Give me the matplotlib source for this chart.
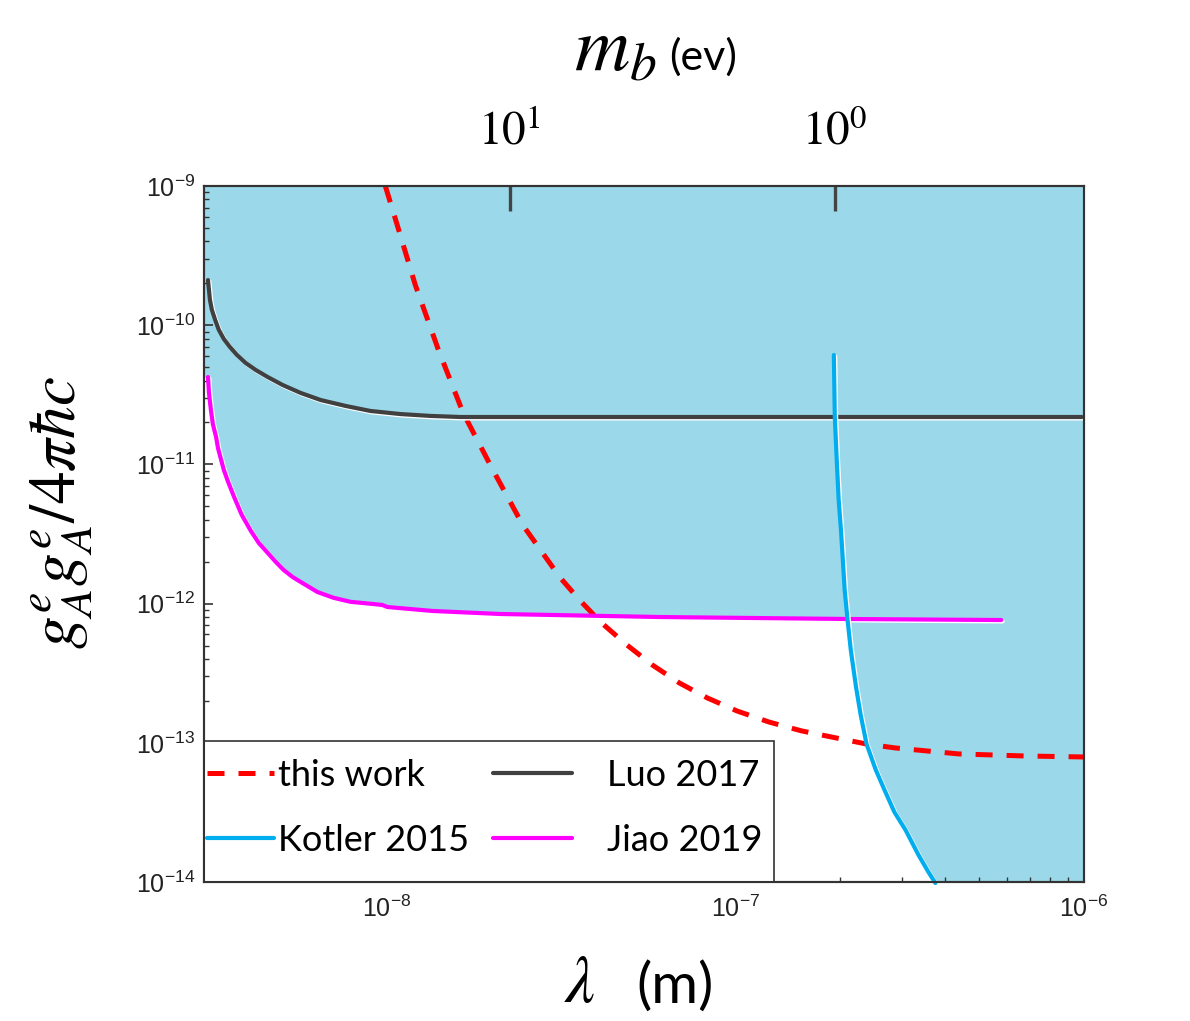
import numpy as np
import matplotlib
matplotlib.use('Agg')
import matplotlib.pyplot as plt
from matplotlib import patheffects as pe
from matplotlib.ticker import NullLocator
from matplotlib.patches import Rectangle

plt.rcParams['font.family'] = ['Lato', 'DejaVu Sans']
plt.rcParams['mathtext.fontset'] = 'custom'
plt.rcParams['mathtext.rm'] = 'Liberation Sans'
plt.rcParams['mathtext.it'] = 'Liberation Sans:italic'
plt.rcParams['mathtext.bf'] = 'Liberation Sans:bold'
plt.rcParams['mathtext.sf'] = 'Liberation Sans'

# ---------------- data ----------------
this_work_x = [9.93e-9, 1.074e-8, 1.21e-8, 1.41e-8, 1.66e-8, 2.02e-8, 2.46e-8, 3.14e-8,
               3.58e-8, 4.14e-8, 4.89e-8, 5.79e-8, 6.92e-8, 8.32e-8, 1.014e-7, 1.25e-7,
               1.545e-7, 1.89e-7, 2.38e-7, 2.88e-7, 4.37e-7, 6.78e-7, 1.0e-6]
this_work_y = [1.0e-9, 5.25e-10, 1.95e-10, 6.64e-11, 2.34e-11, 9.12e-12, 3.67e-12, 1.55e-12,
               1.06e-12, 7.26e-13, 5.05e-13, 3.62e-13, 2.69e-13, 2.10e-13, 1.69e-13, 1.41e-13,
               1.22e-13, 1.10e-13, 9.8e-14, 9.18e-14, 8.32e-14, 8.04e-14, 7.91e-14]

luo_x = [3.08e-9, 3.10e-9, 3.12e-9, 3.16e-9, 3.23e-9, 3.31e-9, 3.42e-9, 3.56e-9, 3.73e-9,
         3.95e-9, 4.22e-9, 4.57e-9, 5.04e-9, 5.68e-9, 6.48e-9, 7.64e-9, 9.00e-9, 1.096e-8,
         1.336e-8, 1.63e-8, 9.86e-7]
luo_y = [2.11e-10, 1.79e-10, 1.52e-10, 1.29e-10, 1.09e-10, 9.24e-11, 7.96e-11, 6.97e-11,
         6.11e-11, 5.35e-11, 4.77e-11, 4.24e-11, 3.72e-11, 3.26e-11, 2.90e-11, 2.63e-11,
         2.42e-11, 2.30e-11, 2.23e-11, 2.19e-11, 2.19e-11]

jiao_x = [3.08e-9, 3.10e-9, 3.14e-9, 3.18e-9, 3.25e-9, 3.29e-9, 3.36e-9, 3.42e-9, 3.51e-9,
          3.66e-9, 3.85e-9, 4.09e-9, 4.31e-9, 4.57e-9, 4.82e-9, 5.08e-9, 5.39e-9, 5.68e-9,
          6.35e-9, 7.06e-9, 7.89e-9, 9.18e-9, 9.74e-9, 1.007e-8, 1.36e-8, 2.12e-8, 6.07e-8,
          2.12e-7, 5.79e-7]
jiao_y = [4.24e-11, 3.26e-11, 2.46e-11, 1.95e-11, 1.57e-11, 1.31e-11, 1.075e-11, 9.12e-12,
          7.60e-12, 5.83e-12, 4.33e-12, 3.32e-12, 2.72e-12, 2.31e-12, 1.99e-12, 1.74e-12,
          1.55e-12, 1.43e-12, 1.21e-12, 1.10e-12, 1.03e-12, 9.93e-13, 9.77e-13, 9.45e-13,
          8.85e-13, 8.42e-13, 8.01e-13, 7.75e-13, 7.62e-13]

kotler_x = [1.918e-7, 1.93e-7, 1.955e-7, 1.98e-7, 2.01e-7, 2.035e-7, 2.06e-7, 2.10e-7,
            2.145e-7, 2.22e-7, 2.29e-7, 2.38e-7, 2.53e-7, 2.68e-7, 2.86e-7, 3.08e-7,
            3.355e-7, 3.58e-7, 3.75e-7]
kotler_y = [6.11e-11, 2.19e-11, 1.075e-11, 5.55e-12, 3.38e-12, 2.06e-12, 1.25e-12, 7.62e-13,
            4.64e-13, 2.52e-13, 1.58e-13, 9.80e-14, 6.38e-14, 4.58e-14, 3.18e-14, 2.36e-14,
            1.56e-14, 1.18e-14, 9.83e-15]

top_tick_pos = [2.26e-8, 1.93e-7]
top_tick_labels = [r'$10^1$', r'$10^0$']

labels = ['this work', 'Kotler 2015', 'Luo 2017', 'Jiao 2019']

XMIN, XMAX = 3e-9, 1e-6
YMIN, YMAX = 1e-14, 1e-9

# ---------------- colours ----------------
FILL = '#9bd8e9'
C_RED = '#ff0000'
C_LUO = '#404040'
C_JIAO = '#ff00ff'
C_KOT = '#00aeef'
AXC = '#333333'

W, H = 1190, 1021
fig = plt.figure(figsize=(W / 100, H / 100), dpi=100)
ax = fig.add_axes([204 / W, 1 - 882 / H, (1084 - 204) / W, (882 - 186) / H])
ax.set_xscale('log')
ax.set_yscale('log')
ax.set_xlim(XMIN, XMAX)
ax.set_ylim(YMIN, YMAX)

# excluded region: above min(Jiao, Kotler)
lg = np.linspace(np.log10(XMIN), np.log10(XMAX), 3000)
jb = np.interp(lg, np.log10(jiao_x), np.log10(jiao_y),
               left=np.log10(jiao_y[0]), right=np.log10(YMAX))
kb = np.interp(lg, np.log10(kotler_x), np.log10(kotler_y),
               left=np.log10(YMAX), right=np.log10(YMIN) - 0.2)
bnd = np.minimum(jb, kb)
ax.fill_between(10 ** lg, 10 ** bnd, YMAX, color=FILL, lw=0, zorder=1)

halo = [pe.SimpleLineShadow(offset=(1.0, -1.0), shadow_color='white', alpha=1.0),
        pe.Normal()]

l_red, = ax.plot(this_work_x, this_work_y, color=C_RED, lw=3.6, dashes=(3.4, 2.8),
                 label=labels[0], zorder=3, clip_on=False)
l_luo, = ax.plot(luo_x, luo_y, color=C_LUO, lw=3.0, label=labels[2], zorder=3,
                 path_effects=halo, solid_capstyle='round', solid_joinstyle='round')
l_jiao, = ax.plot(jiao_x, jiao_y, color=C_JIAO, lw=3.0, label=labels[3], zorder=3,
                  path_effects=halo, solid_capstyle='round', solid_joinstyle='round')
l_kot, = ax.plot(kotler_x, kotler_y, color=C_KOT, lw=3.0, label=labels[1], zorder=3,
                 path_effects=halo, solid_capstyle='round', solid_joinstyle='round',
                 clip_on=False)

# ticks
ax.tick_params(which='both', direction='in', top=False, right=False, colors=AXC,
               labelcolor='#222222')
ax.tick_params(which='major', length=6.5, width=1.2, labelsize=18,
               labelfontfamily='Liberation Sans')
ax.tick_params(which='minor', length=3.6, width=1.0)
ax.tick_params(axis='y', which='major', pad=6.5)
ax.tick_params(axis='x', which='major', pad=10)
for s in ax.spines.values():
    s.set_color(AXC)
    s.set_linewidth(1.5)

# top axis (mass)
ax2 = ax.twiny()
ax2.set_xscale('log')
ax2.set_xlim(XMIN, XMAX)
ax2.set_xticks(top_tick_pos, top_tick_labels, math_fontfamily='stix', fontsize=34)
ax2.xaxis.set_minor_locator(NullLocator())
ax2.tick_params(axis='x', which='major', direction='in', length=18, width=2.4,
                color='#444444', pad=24, labelcolor='black')
for s in ax2.spines.values():
    s.set_color(AXC)
    s.set_linewidth(1.5)

# legend frame + two legends
frame = Rectangle((0, 0), (774 - 204) / 880, (882 - 741) / 696, transform=ax.transAxes,
                  facecolor='white', edgecolor=AXC, lw=1.2, zorder=4)
ax.add_patch(frame)
leg1 = ax.legend([l_red, l_kot], [labels[0], labels[1]], loc='upper left',
                 bbox_to_anchor=((207 - 204) / 880, (882 - 759) / 696), frameon=False,
                 borderpad=0, borderaxespad=0, handlelength=1.85, handletextpad=0.12,
                 labelspacing=0.88, fontsize=26)
leg1.set_zorder(5)
ax.add_artist(leg1)
leg2 = ax.legend([l_luo, l_jiao], [labels[2], labels[3]], loc='upper left',
                 bbox_to_anchor=((493 - 204) / 880, (882 - 759) / 696), frameon=False,
                 borderpad=0, borderaxespad=0, handlelength=2.2, handletextpad=0.95,
                 labelspacing=0.88, fontsize=26)
leg2.set_zorder(5)

# axis titles
fig.text(62 / W, 1 - 513 / H, r'$g_A^e g_A^e/4\pi\hbar c$', rotation=90, ha='center',
         va='center', fontsize=47, math_fontfamily='stix')
fig.text(580 / W, 1 - 983 / H, r'$\lambda$', ha='center', va='center',
         fontsize=48, math_fontfamily='stix')
fig.text(636 / W, 1 - 987 / H, '(m)', ha='left', va='center', fontsize=41)
fig.text(656 / W, 1 - 70 / H, r'$m_b$', ha='right', va='baseline', fontsize=55,
         math_fontfamily='stix')
fig.text(669 / W, 1 - 57 / H, '(ev)', ha='left', va='center', fontsize=31)

fig.savefig('out.png', dpi=100)
